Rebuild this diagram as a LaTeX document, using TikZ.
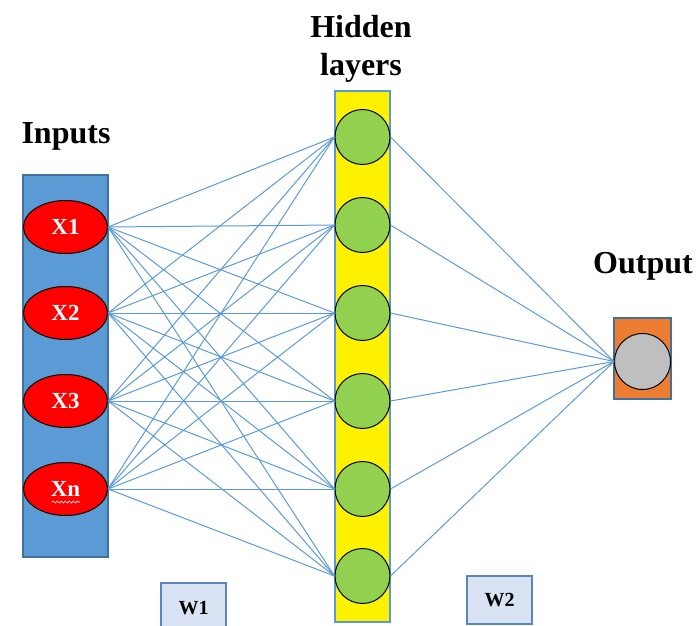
\documentclass[tikz,border=0pt]{standalone}
\usepackage{fontspec}
\setmainfont{Liberation Serif}
\usetikzlibrary{shapes.geometric,decorations.pathmorphing}
\definecolor{inblue}{HTML}{5B9BD5}
\definecolor{inborder}{HTML}{41719C}
\definecolor{linkblue}{HTML}{5B9BD5}
\definecolor{hidgreen}{HTML}{92D050}
\definecolor{outorange}{HTML}{ED7D31}
\definecolor{wfill}{HTML}{DAE3F3}
\definecolor{wborder}{HTML}{5A86BA}
\tikzset{
  layerbox/.style={draw=inborder, line width=1.2pt, inner sep=0pt},
  inputnode/.style={ellipse, draw=black, line width=1pt, fill=red, minimum width=84pt, minimum height=53pt, inner sep=0pt, text=white, font=\fontsize{23}{25}\selectfont\bfseries},
  hidnode/.style={circle, draw=black, line width=1pt, fill=hidgreen, minimum size=55pt, inner sep=0pt},
  outnode/.style={circle, draw=black, line width=1pt, fill=black!25, minimum size=56pt, inner sep=0pt},
  link/.style={draw=linkblue, line width=1pt},
  title/.style={font=\fontsize{32}{38}\selectfont\bfseries, align=center},
  wbox/.style={draw=wborder, line width=1.2pt, fill=wfill, inner sep=0pt, font=\fontsize{20}{22}\selectfont\bfseries}
}
\begin{document}
\begin{tikzpicture}[x=1pt,y=-1pt]
\useasboundingbox (0,0) rectangle (699,626);
% layer boxes
\filldraw[layerbox, fill=inblue] (23,175) rectangle (108,557);
\filldraw[layerbox, draw=inblue, fill=yellow] (335,91) rectangle (390,622);
\filldraw[layerbox, fill=outorange] (614,318) rectangle (671,399);
% weight boxes
\node[wbox, minimum width=65pt, minimum height=50pt] (w1) at (193.5,608) {W1};
\node[wbox, minimum width=65pt, minimum height=48pt] (w2) at (499.5,600) {W2};
% titles
\node[title, anchor=base] (tin) at (66,143) {Inputs};
\node[title, anchor=base] (thid) at (361,75) {Hidden\\layers};
\node[title, anchor=base] (tout) at (643,273) {Output};
% inputs
\node[inputnode] (x1) at (65.5,227) {X1};
\node[inputnode] (x2) at (65.5,313) {X2};
\node[inputnode] (x3) at (65.5,401) {X3};
\node[inputnode] (x4) at (65.5,489) {Xn};
\draw[white, line width=0.7pt, decorate, decoration={snake, amplitude=1pt, segment length=4pt}] (52,502) -- (80,502);
% hidden
\foreach \i/\y in {1/137,2/225,3/313,4/401,5/489,6/576}
  \node[hidnode] (h\i) at (362.5,\y) {};
% output
\node[outnode] (o) at (642.5,361.5) {};
% links
\foreach \a in {1,2,3,4}
  \foreach \b in {1,2,3,4,5,6}
    \draw[link] (x\a.east) -- (h\b.west);
\foreach \b in {1,2,3,4,5,6}
  \draw[link] (h\b.east) -- (o.west);
\end{tikzpicture}
\end{document}
